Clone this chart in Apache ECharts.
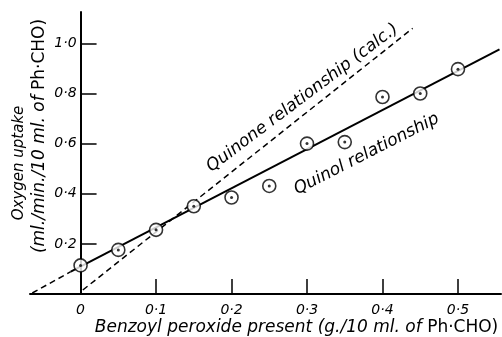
<!DOCTYPE html>
<html>
<head>
<meta charset="utf-8">
<script src="https://cdn.jsdelivr.net/npm/echarts@6/dist/echarts.min.js"></script>
<style>
  html, body { margin: 0; padding: 0; background: #fff; }
  #main { width: 502px; height: 337px; }
</style>
</head>
<body>
<div id="main"></div>
<script>
// measured points (quinol relationship)
var peroxide = [0, 0.05, 0.1, 0.15, 0.2, 0.25, 0.3, 0.35, 0.4, 0.45, 0.5];
var uptake = [0.114, 0.176, 0.256, 0.35, 0.385, 0.431, 0.60, 0.606, 0.786, 0.80, 0.897];

// fitted / calculated lines
var quinolX = [-0.013, 0.555];
var quinolY = [0.089, 0.976];
var quinolExtX = [-0.064, -0.013];
var quinolExtY = [0.004, 0.089];
var quinoneX = [0.003, 0.44];
var quinoneY = [0.016, 1.06];

var xTicks = [0, 0.1, 0.2, 0.3, 0.4, 0.5];
var yTicks = [0.2, 0.4, 0.6, 0.8, 1.0];

// text notes placed on the data scale
var noteText = ['Quinone relationship (calc.)', 'Quinol relationship'];
var noteX = [0.294, 0.379];
var noteY = [0.782, 0.558];
var noteAngle = [37, 27];

function pairs(xs, ys) {
    return xs.map(function (x, i) { return [x, ys[i]]; });
}
function dotted(v) {
    return v === 0 ? '0' : v.toFixed(1).replace('.', '·');
}

var font = 'DejaVu Sans';
var xMin = -0.067, xMax = 0.557;
var gridLeft = 30, gridWidth = 471;
// shift the y axis from the grid edge to x = 0
var yShift = gridWidth * (0 - xMin) / (xMax - xMin);

var myChart = echarts.init(document.getElementById('main'));
option = {
    backgroundColor: '#fff',
    animation: false,
    grid: { left: gridLeft, top: 12, width: gridWidth, height: 282, containLabel: false, outerBoundsMode: 'none' },
    xAxis: {
        type: 'value',
        min: xMin,
        max: xMax,
        splitLine: { show: false },
        axisLine: { lineStyle: { color: '#000', width: 2 } },
        axisTick: { inside: true, length: 15, customValues: xTicks, lineStyle: { color: '#000', width: 1.5 } },
        axisLabel: {
            customValues: xTicks, margin: 9,
            formatter: dotted,
            color: '#000', fontFamily: font, fontStyle: 'italic', fontSize: 14
        },
        name: '{i|Benzoyl peroxide present (g./10 ml. of }{n|Ph·CHO)}',
        nameLocation: 'middle',
        nameGap: 25,
        nameMoveOverlap: false,
        nameTextStyle: {
            padding: [0, 0, 0, 62],
            rich: {
                i: { fontFamily: font, fontStyle: 'italic', fontSize: 17, color: '#000' },
                n: { fontFamily: font, fontSize: 17, color: '#000' }
            }
        }
    },
    yAxis: {
        type: 'value',
        min: 0,
        max: 1.125,
        offset: -yShift,
        splitLine: { show: false },
        axisLine: { onZero: false, lineStyle: { color: '#000', width: 2 } },
        axisTick: { inside: true, length: 16, customValues: yTicks, lineStyle: { color: '#000', width: 1.5 } },
        axisLabel: {
            customValues: yTicks, margin: 4,
            formatter: dotted,
            color: '#000', fontFamily: font, fontStyle: 'italic', fontSize: 14
        },
        name: '{a|Oxygen uptake}\n{b|(ml./min./10 ml. of }{c|Ph·CHO)}',
        nameLocation: 'middle',
        nameRotate: 90,
        nameGap: 30,
        nameMoveOverlap: false,
        nameTextStyle: {
            fontFamily: font, fontStyle: 'italic', fontSize: 16, color: '#000', lineHeight: 21,
            rich: {
                a: { fontFamily: font, fontStyle: 'italic', fontSize: 15, color: '#000', lineHeight: 21, padding: [0, 20, 0, 0] },
                b: { fontFamily: font, fontStyle: 'italic', fontSize: 17, color: '#000', lineHeight: 21, padding: [0, 0, 0, 34] },
                c: { fontFamily: font, fontStyle: 'normal', fontSize: 17, color: '#000', lineHeight: 21 }
            }
        }
    },
    series: [
        {
            type: 'line',
            data: pairs(quinoneX, quinoneY),
            symbol: 'none',
            lineStyle: { color: '#000', width: 1.5, type: [6, 4] },
            z: 2
        },
        {
            type: 'line',
            data: pairs(quinolExtX, quinolExtY),
            symbol: 'none',
            lineStyle: { color: '#000', width: 1.5, type: [6, 4] },
            z: 2
        },
        {
            type: 'line',
            data: pairs(quinolX, quinolY),
            symbol: 'none',
            lineStyle: { color: '#000', width: 2 },
            z: 3
        },
        {
            type: 'scatter',
            data: pairs(peroxide, uptake),
            symbol: 'circle',
            symbolSize: 13,
            itemStyle: { color: '#fff', borderColor: '#000', borderWidth: 1.6 },
            z: 4
        },
        {
            type: 'scatter',
            data: pairs(peroxide, uptake),
            symbol: 'circle',
            symbolSize: 3,
            itemStyle: { color: '#000' },
            z: 5
        },
        {
            type: 'scatter',
            symbolSize: 0,
            silent: true,
            data: noteText.map(function (t, i) {
                return {
                    value: [noteX[i], noteY[i]],
                    label: {
                        show: true, formatter: t, rotate: noteAngle[i],
                        position: 'inside', align: 'center', verticalAlign: 'middle',
                        fontFamily: font, fontStyle: 'italic', fontSize: 17, color: '#000',
                        textBorderWidth: 0, opacity: 1
                    }
                };
            }),
            z: 6
        }
    ]
};
myChart.setOption(option);
</script>
</body>
</html>
